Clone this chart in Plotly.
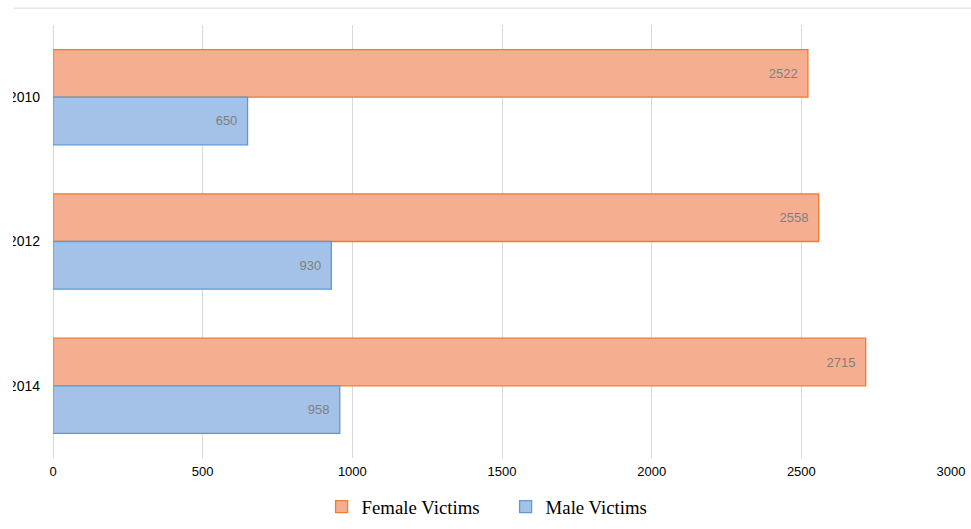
import plotly.graph_objects as go

years = ["2010", "2012", "2014"]
female_victims = [2522, 2558, 2715]
male_victims = [650, 930, 958]
x_ticks = [0, 500, 1000, 1500, 2000, 2500, 3000]

label_font = dict(family="Liberation Sans, Arial, sans-serif", size=13, color="#7f7f7f")

fig = go.Figure()
fig.add_trace(go.Bar(
    name="Female Victims", y=years, x=female_victims, orientation="h",
    marker=dict(color="#F5AF90", line=dict(color="#ED7D31", width=1.3)),
    text=[f"{v}\u00a0\u00a0" for v in female_victims],
    textposition="inside", insidetextanchor="end", textfont=label_font,
    cliponaxis=False,
))
fig.add_trace(go.Bar(
    name="Male Victims", y=years, x=male_victims, orientation="h",
    marker=dict(color="#A4C2E7", line=dict(color="#5B9BD5", width=1.3)),
    text=[f"{v}\u00a0\u00a0" for v in male_victims],
    textposition="inside", insidetextanchor="end", textfont=label_font,
    cliponaxis=False,
))

fig.update_layout(
    width=971, height=529,
    margin=dict(l=53, r=20, t=25, b=71, autoexpand=False),
    paper_bgcolor="white", plot_bgcolor="white",
    barmode="group", bargap=0.34, bargroupgap=0,
    showlegend=True,
    legend=dict(
        orientation="h", x=0.504, xanchor="center", y=-0.113, yanchor="middle",
        font=dict(family="Liberation Serif, Times New Roman, serif", size=18.8, color="#000000"),
        traceorder="normal", entrywidth=139, entrywidthmode="pixels",
    ),
    xaxis=dict(
        range=[0, 3000], tickvals=x_ticks, ticktext=[str(t) for t in x_ticks],
        automargin=False,
        showgrid=True, gridcolor="#d9d9d9", gridwidth=1,
        zeroline=True, zerolinecolor="#d9d9d9", zerolinewidth=1,
        showline=False, ticks="",
        tickfont=dict(family="Liberation Sans, Arial, sans-serif", size=13, color="#000000"),
        ticklabelstandoff=4,
    ),
    yaxis=dict(
        categoryorder="array", categoryarray=years, autorange="reversed",
        automargin=False,
        showgrid=False, zeroline=False, showline=False, ticks="",
        tickfont=dict(family="Liberation Sans, Arial, sans-serif", size=14, color="#000000"),
        ticklabelstandoff=12,
    ),
    shapes=[
        dict(type="line", xref="paper", yref="paper",
             x0=-0.0434, x1=1.0223, y0=1.039, y1=1.039,
             line=dict(color="#d9d9d9", width=1), layer="above"),
        dict(type="rect", xref="paper", yref="paper",
             x0=-0.07, x1=-0.0445, y0=-0.3, y1=1.2,
             fillcolor="white", line=dict(width=0), layer="above"),
    ],
)

fig.write_html(
    "out.html",
    config={"displayModeBar": False},
    post_script="document.body.style.margin='0px';document.body.style.overflow='hidden';",
)
